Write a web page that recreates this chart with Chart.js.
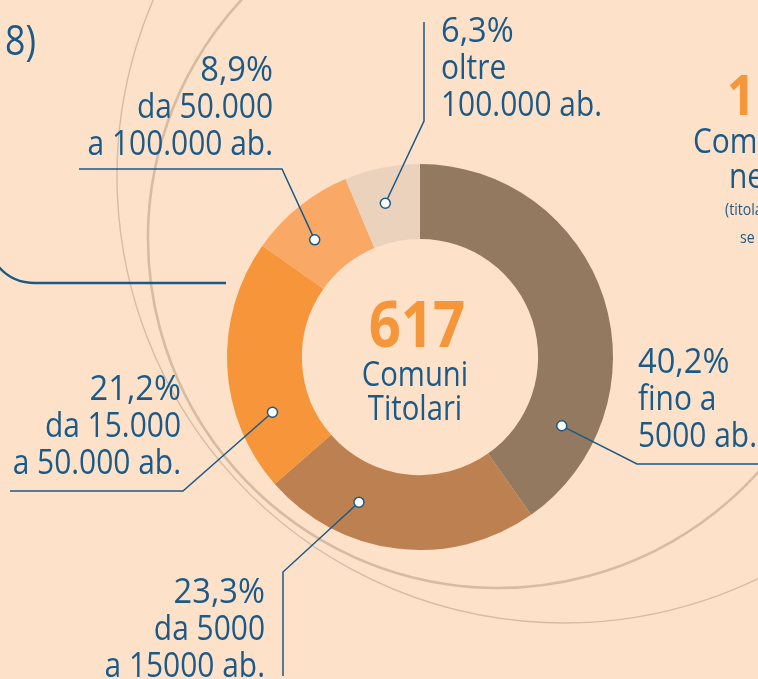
<!DOCTYPE html>
<html lang="it">
<head>
<meta charset="utf-8">
<title>Comuni Titolari per classe demografica</title>
<script src="https://cdn.jsdelivr.net/npm/chart.js@4.4.1/dist/chart.umd.min.js"></script>
<style>
    html, body { margin: 0; padding: 0; background: #fde2c9; overflow: hidden; }
    canvas { display: block; }
</style>
</head>
<body>
<canvas id="comuniChart" width="758" height="679"></canvas>
<script>
// Data
const categories = [
    ['fino a', '5000 ab.'],
    ['da 5000', 'a 15000 ab.'],
    ['da 15.000', 'a 50.000 ab.'],
    ['da 50.000', 'a 100.000 ab.'],
    ['oltre', '100.000 ab.']
];
const shares = [40.2, 23.3, 21.2, 8.9, 6.3];
const totalComuni = '617';
const centerLines = ['Comuni', 'Titolari'];

// Colours
const BLUE = '#1b5a88';
const ORANGE = '#f6963a';
const sliceColors = ['#927960', '#bd8151', '#f6953a', '#f9a866', '#ebd2bc'];
const ringColor = '#d5bca3';

// Callout layout: where along each slice the dot sits (0..1), elbow, line end, text block
const callouts = [
    { t: 0.80, elbow: [637, 464], end: [760, 464], align: 'left',  x: 638, y: 373 },
    { t: 0.69, elbow: [283, 572], end: [283, 676], align: 'right', x: 265, y: 603 },
    { t: 0.27, elbow: [183, 491], end: [10, 491],  align: 'right', x: 181, y: 400 },
    { t: 0.40, elbow: [282, 169], end: [79, 169],  align: 'right', x: 273, y: 81 },
    { t: 0.44, elbow: [424, 121], end: [424, 22],  align: 'left',  x: 441, y: 42 }
];

const LINE_H = 37;
const SQUEEZE = 0.88;

function fmtPct(v) {
    return v.toFixed(1).replace('.', ',') + '%';
}

// draw horizontally condensed text
function squeezedText(ctx, text, x, y, align, font, color, sx) {
    ctx.save();
    ctx.font = font;
    ctx.fillStyle = color;
    ctx.textBaseline = 'alphabetic';
    ctx.textAlign = align;
    ctx.translate(x, y);
    ctx.scale(sx || SQUEEZE, 1);
    ctx.fillText(text, 0, 0);
    ctx.restore();
}

const decorPlugin = {
    id: 'decor',
    beforeDraw(chart) {
        const ctx = chart.ctx;
        const deg = Math.PI / 180;
        ctx.save();
        ctx.fillStyle = '#fde2c9';
        ctx.fillRect(0, 0, chart.width, chart.height);

        // big background rings (only the lower-left part shows)
        ctx.strokeStyle = ringColor;
        ctx.lineWidth = 2.6;
        ctx.beginPath();
        ctx.arc(498, 238, 350, 30 * deg, 235 * deg);
        ctx.stroke();
        ctx.lineWidth = 1.4;
        ctx.beginPath();
        ctx.arc(564, 176, 447, 50 * deg, 215 * deg);
        ctx.stroke();

        // blue bracket on the left
        ctx.strokeStyle = BLUE;
        ctx.lineWidth = 2.5;
        ctx.beginPath();
        ctx.moveTo(-2, 266);
        ctx.quadraticCurveTo(12, 283, 35, 283);
        ctx.lineTo(226, 283);
        ctx.stroke();
        ctx.restore();

        // fragments of neighbouring panels
        squeezedText(ctx, '8)', 5, 55, 'left', '42px "Open Sans"', BLUE, 0.85);
        squeezedText(ctx, '1', 727, 115, 'left', 'bold 56px "Open Sans"', ORANGE, 0.88);
        squeezedText(ctx, 'Comuni', 693, 153, 'left', '34px "Open Sans"', BLUE);
        squeezedText(ctx, 'nei', 729, 188, 'left', '34px "Open Sans"', BLUE);
        squeezedText(ctx, '(titolari', 725, 215, 'left', '16px "Open Sans"', BLUE);
        squeezedText(ctx, 'se', 740, 243, 'left', '16px "Open Sans"', BLUE);
    },
    afterDatasetsDraw(chart) {
        const ctx = chart.ctx;
        const arcs = chart.getDatasetMeta(0).data;

        // center text
        const cx = arcs[0].x;
        const cy = arcs[0].y;
        squeezedText(ctx, totalComuni, cx - 3, cy - 10, 'center', 'bold 64px "Open Sans"', ORANGE, 0.88);
        centerLines.forEach((line, i) => {
            squeezedText(ctx, line, cx - 5, cy + 29 + i * 34, 'center', '34px "Open Sans"', BLUE, 0.86);
        });

        arcs.forEach((arc, i) => {
            const c = callouts[i];
            const a = arc.startAngle + c.t * (arc.endAngle - arc.startAngle);
            const r = (arc.innerRadius + arc.outerRadius) / 2 + 2;
            const dx = arc.x + Math.cos(a) * r;
            const dy = arc.y + Math.sin(a) * r;

            // leader
            ctx.save();
            ctx.strokeStyle = BLUE;
            ctx.lineWidth = 1.5;
            ctx.beginPath();
            ctx.moveTo(dx, dy);
            ctx.lineTo(c.elbow[0], c.elbow[1]);
            ctx.lineTo(c.end[0], c.end[1]);
            ctx.stroke();

            // dot
            ctx.fillStyle = '#ffffff';
            ctx.beginPath();
            ctx.arc(dx, dy, 5, 0, Math.PI * 2);
            ctx.fill();
            ctx.stroke();
            ctx.restore();

            // text block: percentage line is a little wider in the original type
            squeezedText(ctx, fmtPct(shares[i]), c.x, c.y, c.align, '34px "Open Sans"', BLUE, 0.96);
            categories[i].forEach((line, k) => {
                squeezedText(ctx, line, c.x, c.y + (k + 1) * LINE_H, c.align, '34px "Open Sans"', BLUE);
            });
        });
    }
};

const chartCtx = document.getElementById('comuniChart').getContext('2d');
const comuniChart = new Chart(chartCtx, {
    type: 'doughnut',
    data: {
        labels: categories.map(c => c.join(' ')),
        datasets: [{
            data: shares,
            backgroundColor: sliceColors,
            borderWidth: 0,
            hoverOffset: 0
        }]
    },
    options: {
        responsive: false,
        animation: false,
        cutout: '61.2%',
        rotation: 0,
        layout: {
            padding: { left: 227, right: 145, top: 164, bottom: 129 }
        },
        plugins: {
            legend: { display: false },
            tooltip: { enabled: false }
        }
    },
    plugins: [decorPlugin]
});
</script>
</body>
</html>
